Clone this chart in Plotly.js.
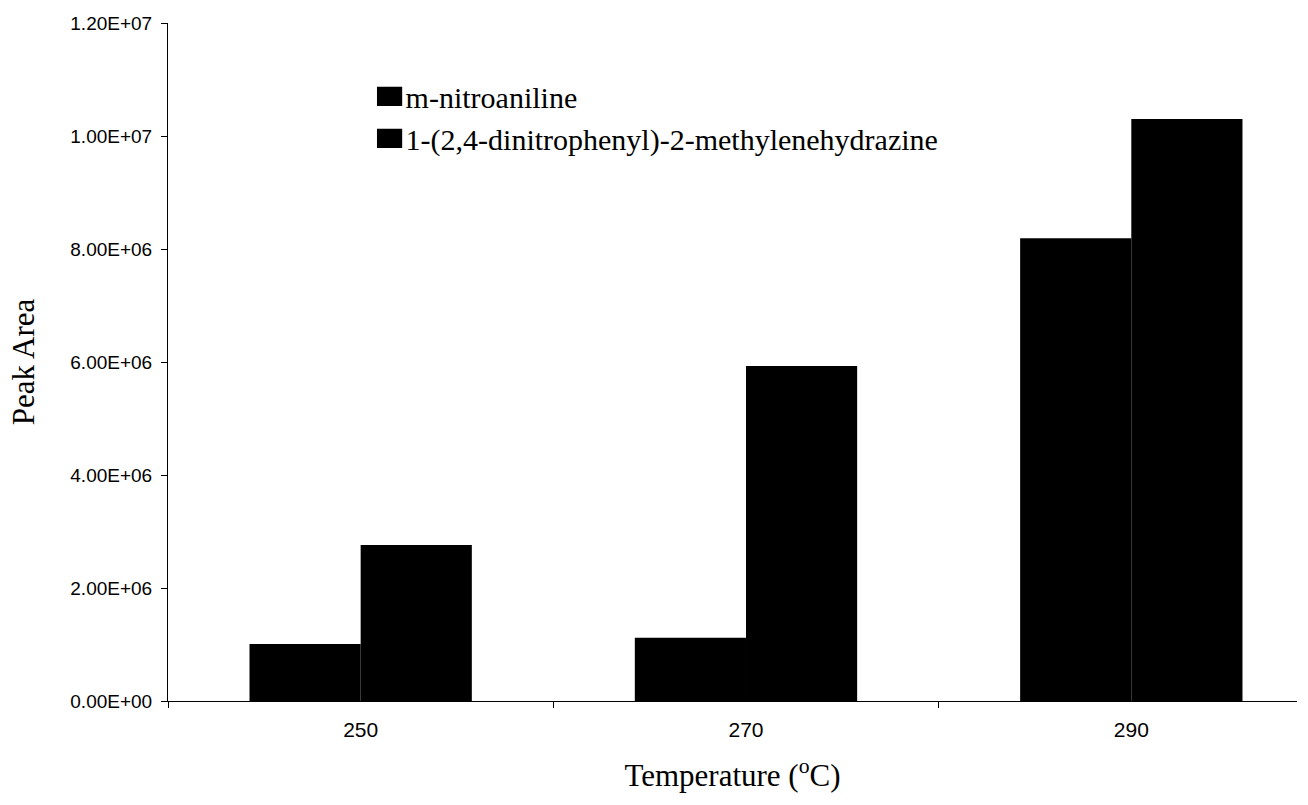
<!DOCTYPE html>
<html>
<head>
<meta charset="utf-8">
<script src="https://cdn.plot.ly/plotly-3.0.1.min.js"></script>
<style>html,body{margin:0;padding:0;background:#fff;}#chart{width:1308px;height:805px;}</style>
</head>
<body>
<div id="chart"></div>
<script>
const categories = ["250", "270", "290"];
const seriesNames = ["m-nitroaniline", "1-(2,4-dinitrophenyl)-2-methylenehydrazine"];
const mNitroaniline = [1.01e6, 1.12e6, 8.19e6];
const dinitrophenylHydrazine = [2.76e6, 5.93e6, 1.03e7];
const yTickVals = [0, 2e6, 4e6, 6e6, 8e6, 1e7, 1.2e7];
const yTickText = ["0.00E+00", "2.00E+06", "4.00E+06", "6.00E+06", "8.00E+06", "1.00E+07", "1.20E+07"];

const traces = [
  {type: "bar", name: seriesNames[0], x: categories, y: mNitroaniline, marker: {color: "#000000", line: {width: 0}}},
  {type: "bar", name: seriesNames[1], x: categories, y: dinitrophenylHydrazine, marker: {color: "#000000", line: {width: 0}}}
];

const layout = {
  width: 1308, height: 805,
  margin: {l: 168, r: 11, t: 23, b: 104, pad: 0},
  paper_bgcolor: "#ffffff", plot_bgcolor: "#ffffff",
  barmode: "group", bargap: 0.423, bargroupgap: 0,
  showlegend: true,
  legend: {x: 0.175, y: 0.93, xanchor: "left", yanchor: "top", bgcolor: "rgba(0,0,0,0)",
           font: {family: "Liberation Serif, Times New Roman, serif", size: 30, color: "#000"},
           tracegroupgap: 0, traceorder: "normal"},
  xaxis: {type: "category", range: [-0.5, 2.43], tickson: "boundaries", ticks: "outside", ticklen: 6,
          tickcolor: "#000", showline: true, linecolor: "#000", linewidth: 1, showgrid: false, zeroline: false,
          ticklabelstandoff: 10,
          tickfont: {family: "Liberation Sans, Arial, sans-serif", size: 21, color: "#000"},
          title: {text: "Temperature (<sup>o</sup>C)", standoff: 24,
                  font: {family: "Liberation Serif, Times New Roman, serif", size: 31, color: "#000"}}},
  yaxis: {range: [0, 1.2e7], tickvals: yTickVals, ticktext: yTickText, ticks: "outside", ticklen: 6,
          tickcolor: "#000", showline: true, linecolor: "#000", linewidth: 1, showgrid: false, zeroline: false,
          ticklabelstandoff: 5,
          tickfont: {family: "Liberation Sans, Arial, sans-serif", size: 19, color: "#000"},
          title: {text: "Peak Area", standoff: 26,
                  font: {family: "Liberation Serif, Times New Roman, serif", size: 31, color: "#000"}}}
};

Plotly.newPlot("chart", traces, layout, {staticPlot: true, displayModeBar: false}).then(function (gd) {
  gd.querySelectorAll(".legendpoints path").forEach(function (p) {
    p.setAttribute("transform", "translate(24,0) scale(2.1,1.6)");
  });
});
</script>
</body>
</html>
